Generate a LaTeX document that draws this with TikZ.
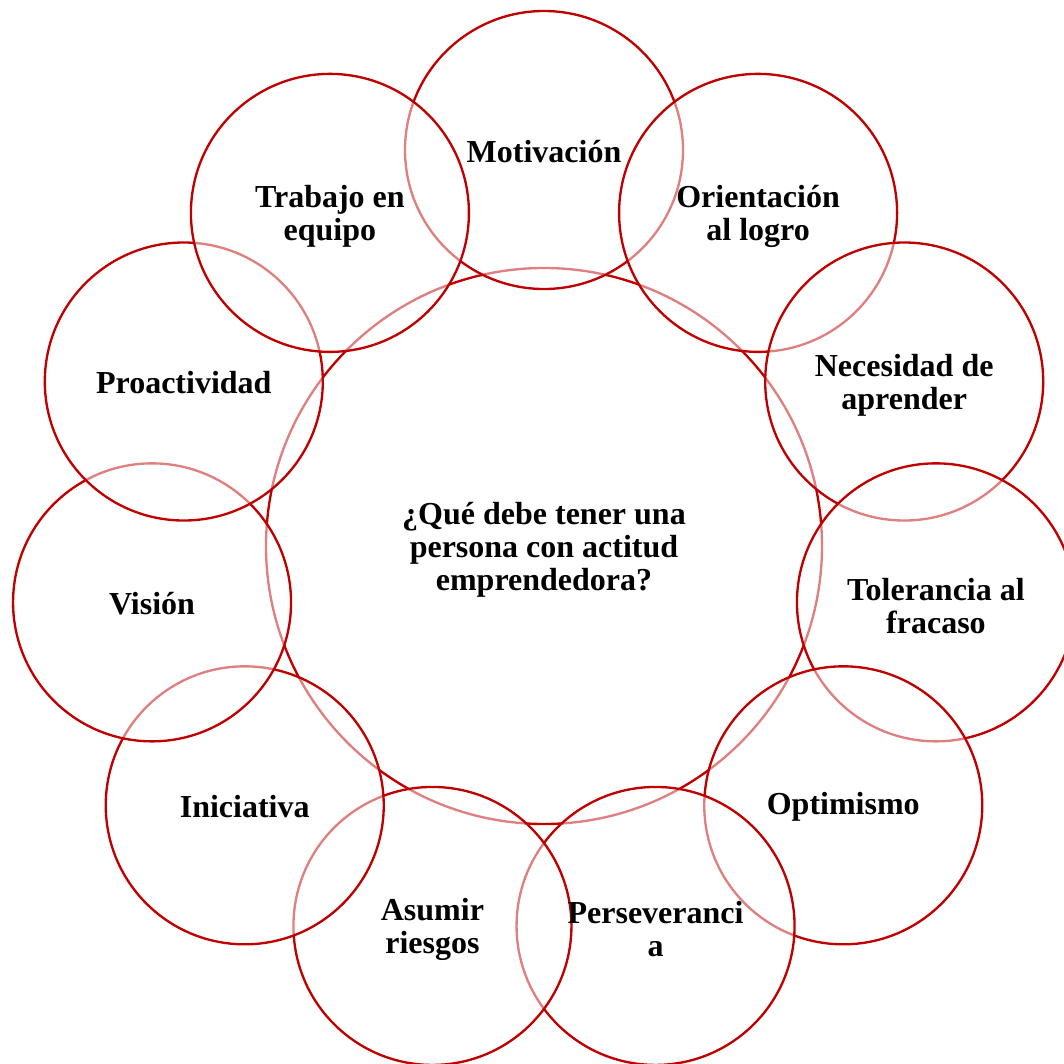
\documentclass[tikz,border=0pt]{standalone}
\usepackage{fontspec}
\setmainfont{Liberation Serif}
\definecolor{dred}{HTML}{C00000}
\tikzset{
  hub/.style={circle, draw=dred, line width=1.75pt, fill=white, minimum size=417pt, inner sep=0pt},
  petal/.style={circle, draw=dred, line width=1.75pt, fill=white, fill opacity=0.5, minimum size=208.5pt, inner sep=0pt},
  lbl/.style={align=center, inner sep=0pt, font=\fontsize{24}{24.75}\selectfont\bfseries}
}
\begin{document}
\begin{tikzpicture}[x=0.75pt,y=-0.75pt]
\useasboundingbox (0,0) rectangle (1064,1064);
\clip (0,0) rectangle (1064,1064);
\node[hub] (c) at (544,546) {};
\node[petal] (p1) at ({544+396*cos(90)},{546-396*sin(90)}) {};
\node[petal] (p2) at ({544+396*cos(90-32.7273)},{546-396*sin(90-32.7273)}) {};
\node[petal] (p3) at ({544+396*cos(90-2*32.7273)},{546-396*sin(90-2*32.7273)}) {};
\node[petal] (p4) at ({544+396*cos(90-3*32.7273)},{546-396*sin(90-3*32.7273)}) {};
\node[petal] (p5) at ({544+396*cos(90-4*32.7273)},{546-396*sin(90-4*32.7273)}) {};
\node[petal] (p6) at ({544+396*cos(90-5*32.7273)},{546-396*sin(90-5*32.7273)}) {};
\node[petal] (p7) at ({544+396*cos(90-6*32.7273)},{546-396*sin(90-6*32.7273)}) {};
\node[petal] (p8) at ({544+396*cos(90-7*32.7273)},{546-396*sin(90-7*32.7273)}) {};
\node[petal] (p9) at ({544+396*cos(90-8*32.7273)},{546-396*sin(90-8*32.7273)}) {};
\node[petal] (p10) at ({544+396*cos(90-9*32.7273)},{546-396*sin(90-9*32.7273)}) {};
\node[petal] (p11) at ({544+396*cos(90-10*32.7273)},{546-396*sin(90-10*32.7273)}) {};
\node[lbl] (tc) at ([yshift=-2.5pt]c.center) {¿Qué debe tener una\\persona con actitud\\emprendedora?};
\node[lbl] (t1) at ([yshift=-1pt]p1.center) {Motivación};
\node[lbl] (t2) at ([yshift=-2.5pt]p2.center) {Orientación\\al logro};
\node[lbl] (t3) at ([yshift=-2.5pt]p3.center) {Necesidad de\\aprender};
\node[lbl] (t4) at ([yshift=-2.5pt]p4.center) {Tolerancia al\\fracaso};
\node[lbl] (t5) at ([yshift=-1pt]p5.center) {Optimismo};
\node[lbl] (t6) at ([yshift=-2.5pt]p6.center) {Perseveranci\\a};
\node[lbl] (t7) at ([yshift=-2.5pt]p7.center) {Asumir\\riesgos};
\node[lbl] (t8) at ([yshift=-1pt]p8.center) {Iniciativa};
\node[lbl] (t9) at ([yshift=-1pt]p9.center) {Visión};
\node[lbl] (t10) at ([yshift=-1pt]p10.center) {Proactividad};
\node[lbl] (t11) at ([yshift=-2.5pt]p11.center) {Trabajo en\\equipo};
\end{tikzpicture}
\end{document}
